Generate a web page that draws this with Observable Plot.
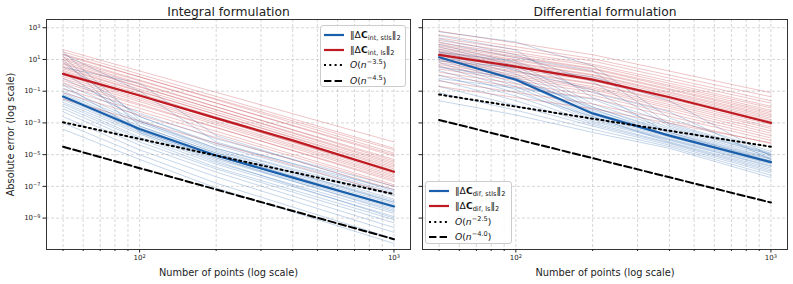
<!DOCTYPE html>
<html><head><meta charset="utf-8">
<script src="https://cdn.jsdelivr.net/npm/d3@7"></script>
<script src="https://cdn.jsdelivr.net/npm/@observablehq/plot@0.6"></script>
<style>
body{margin:0;background:#fff;font-family:"DejaVu Sans",sans-serif;}
#wrap{position:relative;width:793px;height:284px;overflow:hidden;background:#fff;}
.panel{position:absolute;top:0;}
.legend{position:absolute;background:rgba(255,255,255,0.85);border:1px solid #cccccc;border-radius:3px;font-size:9.2px;color:#111;box-sizing:border-box;}
.row{position:absolute;left:0;height:14px;white-space:nowrap;}
.row svg{position:absolute;top:5px;}
.row span{position:absolute;line-height:14px;top:0;}
sub{font-size:72%;vertical-align:-2px;line-height:0;}
sup{font-size:72%;vertical-align:4px;line-height:0;}
</style>
</head><body>
<div id="wrap"></div>
<script>
// ---------------- data (values are log10 of the absolute error) ----------------
const titles = ["Integral formulation", "Differential formulation"];
const xLabel = "Number of points (log scale)";
const yLabel = "Absolute error (log scale)";
const xMajorTicks = [100, 1000];
const xMinorTicks = [50, 60, 70, 80, 90, 200, 300, 400, 500, 600, 700, 800, 900];
const yTicks = [1e3, 1e1, 1e-1, 1e-3, 1e-5, 1e-7, 1e-9];

// median curves
const nMedian = [50, 100, 200, 400, 1000];
const intStlsMedianLog10 = [-1.34, -3.38, -5.05, -6.45, -8.27];
const intLsMedianLog10   = [0.09, -1.27, -2.70, -4.10, -6.08];
const difStlsMedianLog10 = [1.14, -0.28, -2.40, -3.80, -5.47];
const difLsMedianLog10   = [1.29, 0.55, -0.27, -1.38, -3.00];

// reference slopes (end points)
const nRef = [50, 1000];
const intRefDottedLog10 = [-2.96, -7.49];   // O(n^-3.5)
const intRefDashedLog10 = [-4.50, -10.33];  // O(n^-4.5)
const difRefDottedLog10 = [-1.21, -4.50];   // O(n^-2.5)
const difRefDashedLog10 = [-2.81, -8.02];   // O(n^-4.0)

// individual runs
const nIntStlsRuns = [50, 100, 200, 1000];
const intStlsRunsLog10 = [
  [-0.5, -2.6, -4.3, -7.2], [-0.8, -2.9, -4.6, -7.6], [-1.0, -3.0, -4.8, -7.9],
  [-1.1, -3.2, -4.9, -8.0], [-1.2, -3.3, -5.0, -8.1], [-1.3, -3.4, -5.1, -8.2],
  [-1.45, -3.5, -5.2, -8.4], [-1.55, -3.6, -5.3, -8.5], [-1.7, -3.7, -5.5, -8.7],
  [-1.8, -3.9, -5.6, -8.9], [-1.95, -4.0, -5.8, -9.1], [-2.1, -4.2, -5.9, -9.3],
  [-2.3, -4.4, -6.1, -9.6], [-2.6, -4.7, -6.4, -9.9], [-3.0, -5.0, -6.8, -10.3],
  [-3.4, -5.3, -7.1, -10.6], [-0.2, -2.4, -4.0, -7.0], [1.5, -2.8, -4.6, -7.8],
  [1.2, -3.2, -4.9, -8.3], [0.8, -2.6, -4.4, -7.5], [1.35, -1.0, -4.2, -7.4],
  [0.5, -0.5, -3.8, -7.3], [0.2, -2.9, -4.7, -8.0], [-0.6, -3.5, -5.2, -8.6],
  [1.0, -3.6, -5.4, -9.0]
];
const nIntLsRuns = [50, 1000];
const intLsRunsLog10 = [
  [1.62, -4.2], [1.48, -4.6], [1.35, -4.9], [1.28, -4.7], [1.15, -5.1],
  [1.05, -5.0], [0.98, -5.4], [0.86, -5.3], [0.77, -5.6], [0.70, -5.5],
  [0.58, -5.7], [0.49, -5.9], [0.41, -5.8], [0.30, -6.0], [0.22, -6.2],
  [0.12, -6.1], [0.03, -6.3], [-0.08, -6.4], [-0.20, -6.5], [-0.33, -6.7],
  [-0.47, -6.6], [-0.62, -6.9], [-0.85, -7.0], [-1.10, -7.2], [-1.50, -7.5]
];
const nDifStlsRuns = [50, 100, 200, 400, 1000];
const difStlsRunsLog10 = [
  [2.75, 2.1, 0.6, -2.7, -4.8], [2.5, 1.6, -1.4, -3.0, -4.9], [2.3, 1.3, -0.4, -3.2, -5.0],
  [2.1, 1.1, 0.3, -3.1, -4.95], [1.95, 0.8, -1.8, -3.4, -5.1], [1.8, 0.6, -2.0, -3.5, -5.2],
  [1.65, 0.4, -2.2, -3.6, -5.25], [1.5, 0.3, -0.9, -3.7, -5.3], [1.4, 0.1, -2.3, -3.75, -5.4],
  [1.3, -0.1, -2.5, -3.8, -5.45], [1.2, -0.2, -2.1, -3.85, -5.5], [1.14, -0.3, -2.6, -3.9, -5.55],
  [1.0, -0.5, -2.7, -4.0, -5.6], [0.8, -0.7, -2.8, -4.05, -5.7], [0.6, -0.9, -2.9, -4.1, -5.75],
  [0.3, -1.1, -2.6, -4.2, -5.85], [0.0, -1.3, -3.0, -4.25, -5.95], [-0.3, -1.6, -3.1, -4.3, -6.05],
  [-0.7, -1.9, -3.2, -4.4, -6.15], [-1.1, -2.2, -3.4, -4.5, -6.3], [-1.6, -2.5, -3.6, -4.6, -6.45],
  [0.9, 0.5, -0.1, -1.6, -5.1], [1.45, 0.9, -1.1, -2.3, -5.3], [-0.2, -0.8, -1.5, -3.3, -5.0],
  [0.5, -0.2, -2.0, -3.6, -5.4]
];
const nDifLsRuns = [50, 200, 1000];
const difLsRunsLog10 = [
  [2.78, 1.3, -1.1], [2.55, 1.05, -1.35], [2.35, 0.9, -1.6], [2.2, 0.7, -1.75], [2.05, 0.6, -1.95],
  [1.95, 0.45, -2.05], [1.85, 0.4, -2.2], [1.75, 0.25, -2.3], [1.65, 0.2, -2.4], [1.55, 0.05, -2.5],
  [1.48, 0.0, -2.6], [1.4, -0.1, -2.7], [1.32, -0.2, -2.8], [1.22, -0.25, -2.9], [1.12, -0.35, -3.0],
  [1.02, -0.5, -3.1], [0.92, -0.55, -3.25], [0.8, -0.7, -3.35], [0.68, -0.8, -3.5], [0.55, -0.9, -3.65],
  [0.4, -1.05, -3.8], [0.2, -1.25, -3.95], [0.0, -1.45, -4.1], [-0.35, -1.8, -4.3], [-0.7, -2.1, -4.25]
];

// ---------------- rendering ----------------
const BLUE = "#1a5fab", RED = "#bf1a22";
const fmtPow = v => "10^" + Math.round(Math.log10(v));

const toPts = (ns, logs, id) => ns.map((n, i) => ({n, v: Math.pow(10, logs[i]), id}));
const runs = (ns, rows, tag) => rows.flatMap((r, k) => toPts(ns, r, tag + k));

const xDomain = [Math.pow(10, 1.634), Math.pow(10, 3.065)];
const yDomain = [Math.pow(10, -10.98), Math.pow(10, 3.52)];
const gridStyle = {stroke: "#b8b8b8", strokeOpacity: 0.7, strokeDasharray: "3,2", strokeWidth: 0.8};

function panel(opts) {
  const {title, stlsRuns, lsRuns, stlsMed, lsMed, dotted, dashed, left, width, mL, mR, showY} = opts;
  const marks = [
    Plot.gridX([...xMinorTicks, ...xMajorTicks], gridStyle),
    Plot.gridY(yTicks, gridStyle),
    Plot.line(stlsRuns, {x: "n", y: "v", z: "id", stroke: BLUE, strokeOpacity: 0.3, strokeWidth: 0.85}),
    Plot.line(lsRuns, {x: "n", y: "v", z: "id", stroke: RED, strokeOpacity: 0.3, strokeWidth: 0.85}),
    Plot.line(stlsMed, {x: "n", y: "v", stroke: BLUE, strokeWidth: 2.2}),
    Plot.line(lsMed, {x: "n", y: "v", stroke: RED, strokeWidth: 2.2}),
    Plot.line(dotted, {x: "n", y: "v", stroke: "black", strokeWidth: 2, strokeDasharray: "2,3.3"}),
    Plot.line(dashed, {x: "n", y: "v", stroke: "black", strokeWidth: 2, strokeDasharray: "7.4,3.2"}),
    Plot.frame({stroke: "#333", strokeWidth: 1}),
    Plot.axisX(xMajorTicks, {tickFormat: fmtPow, tickSize: 3.5, tickPadding: 2.5, fontSize: 7, label: null}),
    Plot.axisX(xMinorTicks, {tickFormat: () => "", tickSize: 2, label: null}),
    Plot.axisY(yTicks, {tickFormat: showY ? fmtPow : () => "", tickSize: 3.5, tickPadding: 2.5, fontSize: 7, label: null}),
    Plot.text([title], {text: d => d, frameAnchor: "top", lineAnchor: "middle", dy: -7.5, fontSize: 12.3}),
    Plot.text([xLabel], {text: d => d, frameAnchor: "bottom", lineAnchor: "middle", dy: 23, fontSize: 9.8})
  ];
  if (showY) marks.push(Plot.text([yLabel], {text: d => d, frameAnchor: "left", textAnchor: "middle", rotate: -90, dx: -36, fontSize: 9.8}));
  const svg = Plot.plot({
    width, height: 284,
    marginTop: 19, marginBottom: 35, marginLeft: mL, marginRight: mR,
    style: {fontFamily: "DejaVu Sans", fontSize: "8px", background: "transparent", color: "#222"},
    x: {type: "log", domain: xDomain},
    y: {type: "log", domain: yDomain},
    marks
  });
  // render "10^k" tick labels with a real superscript
  svg.querySelectorAll("text").forEach(t => {
    const m = /^10\^(-?\d+)$/.exec(t.textContent);
    if (!m) return;
    t.textContent = "10";
    const ts = document.createElementNS("http://www.w3.org/2000/svg", "tspan");
    ts.setAttribute("dy", "-0.45em");
    ts.setAttribute("font-size", "72%");
    ts.textContent = m[1].replace("-", "−");
    t.appendChild(ts);
  });
  svg.classList.add("panel");
  svg.style.left = left + "px";
  document.getElementById("wrap").appendChild(svg);
}

panel({
  title: titles[0],
  stlsRuns: runs(nIntStlsRuns, intStlsRunsLog10, "is"),
  lsRuns: runs(nIntLsRuns, intLsRunsLog10, "il"),
  stlsMed: toPts(nMedian, intStlsMedianLog10, "m1"),
  lsMed: toPts(nMedian, intLsMedianLog10, "m2"),
  dotted: toPts(nRef, intRefDottedLog10, "r1"),
  dashed: toPts(nRef, intRefDashedLog10, "r2"),
  left: 0, width: 412, mL: 46, mR: 2, showY: true
});
panel({
  title: titles[1],
  stlsRuns: runs(nDifStlsRuns, difStlsRunsLog10, "ds"),
  lsRuns: runs(nDifLsRuns, difLsRunsLog10, "dl"),
  stlsMed: toPts(nMedian, difStlsMedianLog10, "m3"),
  lsMed: toPts(nMedian, difLsMedianLog10, "m4"),
  dotted: toPts(nRef, difRefDottedLog10, "r3"),
  dashed: toPts(nRef, difRefDashedLog10, "r4"),
  left: 412, width: 381, mL: 10, mR: 6, showY: false
});

// ---------------- legends ----------------
function legend(box, items) {
  const div = document.createElement("div");
  div.className = "legend";
  Object.assign(div.style, {left: box[0] + "px", top: box[1] + "px", width: box[2] + "px", height: box[3] + "px"});
  items.forEach((it, i) => {
    const row = document.createElement("div");
    row.className = "row";
    row.style.top = (box[4] + i * 15.4 - 7) + "px";
    row.style.width = box[2] + "px";
    row.innerHTML = `<svg width="22" height="4" style="left:3px"><line x1="0" y1="2" x2="20" y2="2" stroke="${it.c}" stroke-width="2.2" ${it.d ? `stroke-dasharray="${it.d}"` : ""}/></svg><span style="left:29px">${it.t}</span>`;
    div.appendChild(row);
  });
  document.getElementById("wrap").appendChild(div);
}
const normLabel = s => `‖Δ<b>C</b><sub>${s}</sub>‖<sub>2</sub>`;
const ordLabel = p => `<i>O</i>(<i>n</i><sup>−${p}</sup>)`;
legend([320, 25, 86, 62, 8.5], [
  {c: BLUE, t: normLabel("int, stls")},
  {c: RED, t: normLabel("int, ls")},
  {c: "black", d: "2,3.3", t: ordLabel("3.5")},
  {c: "black", d: "7.4,3.2", t: ordLabel("4.5")}
]);
legend([425, 181, 87, 63, 9], [
  {c: BLUE, t: normLabel("dif, stls")},
  {c: RED, t: normLabel("dif, ls")},
  {c: "black", d: "2,3.3", t: ordLabel("2.5")},
  {c: "black", d: "7.4,3.2", t: ordLabel("4.0")}
]);
</script>
</body></html>
